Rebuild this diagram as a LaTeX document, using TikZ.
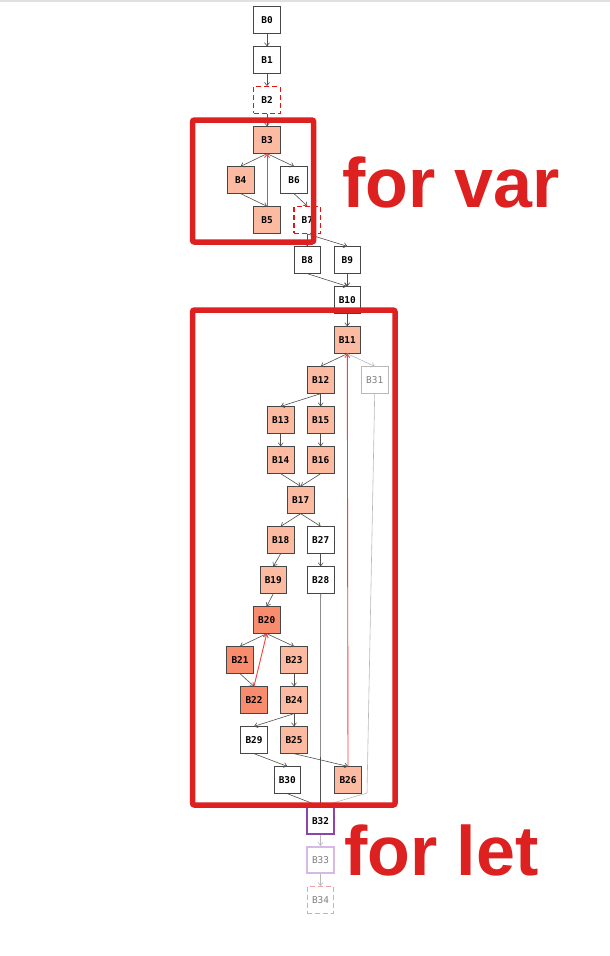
\documentclass[tikz,border=0pt]{standalone}
\usepackage{fontspec}
\setmainfont{Liberation Sans}
\newfontfamily\nodefont{DejaVu Sans Mono}
\usetikzlibrary{arrows.meta}
\definecolor{salmonA}{RGB}{252,187,161}
\definecolor{salmonB}{RGB}{250,140,110}
\definecolor{edgegray}{RGB}{80,80,80}
\definecolor{boxgray}{RGB}{70,70,70}
\definecolor{hlred}{RGB}{221,32,32}
\definecolor{backred}{RGB}{255,60,60}
\definecolor{deadred}{RGB}{230,20,20}
\definecolor{faintgray}{RGB}{185,185,185}
\definecolor{purpleA}{RGB}{142,68,173}
\definecolor{purpleB}{RGB}{215,185,230}
\definecolor{pinkB}{RGB}{245,160,160}
\tikzset{
  blk/.style={draw=boxgray, line width=0.8pt, minimum size=26.5pt, inner sep=0pt, fill=white,
    font=\nodefont\bfseries\fontsize{9.4}{10}\selectfont},
  thinlabel/.style={font=\nodefont\fontsize{9.4}{10}\selectfont, text=black!50},
  hot/.style={blk, fill=salmonA},
  hotter/.style={blk, fill=salmonB},
  deadbox/.style={blk, draw=deadred, line width=1.4pt, dash pattern=on 5pt off 3pt},
  edge/.style={draw=edgegray, line width=0.6pt, -{Straight Barb[length=3.2pt,width=5pt]}},
  backedge/.style={edge, draw=backred, line width=0.9pt},
  faintedge/.style={edge, draw=faintgray},
  hlbox/.style={draw=hlred, line width=5.5pt, rounded corners=2pt},
  bigword/.style={font=\bfseries\fontsize{70}{70}\selectfont, inner sep=0pt, text=hlred, anchor=base west}
}
\begin{document}
\begin{tikzpicture}[x=1pt,y=-1pt]
\useasboundingbox[fill=white] (0,0) rectangle (610,956);
\draw[black!12, line width=1.5pt] (0,0.75) -- (610,0.75);
% nodes
\node[blk] (B0) at (267,20) {B0};
\node[blk] (B1) at (267,60) {B1};
\node[deadbox] (B2) at (267,100) {B2};
\node[hot] (B3) at (267,140) {B3};
\node[hot] (B4) at (240.7,180) {B4};
\node[blk] (B6) at (294,180) {B6};
\node[hot] (B5) at (267,220) {B5};
\node[deadbox] (B7) at (307.3,220) {B7};
\node[blk] (B8) at (307.3,260) {B8};
\node[blk] (B9) at (347.3,260) {B9};
\node[blk] (B10) at (347.3,300) {B10};
\node[hot] (B11) at (347.3,340) {B11};
\node[hot] (B12) at (320.7,380) {B12};
\node[blk, draw=faintgray, thinlabel] (B31) at (374.7,380) {B31};
\node[hot] (B13) at (280.7,420) {B13};
\node[hot] (B15) at (320.7,420) {B15};
\node[hot] (B14) at (280.7,460) {B14};
\node[hot] (B16) at (320.7,460) {B16};
\node[hot] (B17) at (300.7,500) {B17};
\node[hot] (B18) at (280.7,540) {B18};
\node[blk] (B27) at (320.7,540) {B27};
\node[hot] (B19) at (273.3,580) {B19};
\node[blk] (B28) at (320.7,580) {B28};
\node[hotter] (B20) at (266.7,620) {B20};
\node[hotter] (B21) at (240,660) {B21};
\node[hot] (B23) at (294,660) {B23};
\node[hotter] (B22) at (254,700) {B22};
\node[hot] (B24) at (294,700) {B24};
\node[blk] (B29) at (254,740) {B29};
\node[hot] (B25) at (294,740) {B25};
\node[blk] (B30) at (287.3,780) {B30};
\node[hot] (B26) at (348,780) {B26};
\node[blk, draw=purpleA, line width=1.8pt] (B32) at (320.5,820.7) {B32};
\node[blk, draw=purpleB, line width=1.8pt, thinlabel] (B33) at (320.5,860) {B33};
\node[blk, draw=pinkB, line width=1.4pt, dash pattern=on 5pt off 3pt, thinlabel] (B34) at (320.5,900) {B34};
\coordinate (k31) at (367,793);
% edges
\draw[edge] (B0.south) -- (B1.north);
\draw[edge] (B1.south) -- (B2.north);
\draw[edge] (B2.south) -- (B3.north);
\draw[edge] (B3.south) -- (B4.north);
\draw[edge] (B3.south) -- (B6.north);
\draw[edge] (B4.south) -- (B5.north);
\draw[backedge] (B5.north) -- (B3.south);
\draw[edge] (B6.south) -- (B7.north);
\draw[edge] (B7.south) -- (B8.north);
\draw[edge] (B7.south) -- (B9.north);
\draw[edge] (B8.south) -- (B10.north);
\draw[edge] (B9.south) -- (B10.north);
\draw[edge] (B10.south) -- (B11.north);
\draw[edge] (B11.south) -- (B12.north);
\draw[faintedge] (B11.south) -- (B31.north);
\draw[edge] (B12.south) -- (B13.north);
\draw[edge] (B12.south) -- (B15.north);
\draw[edge] (B13.south) -- (B14.north);
\draw[edge] (B15.south) -- (B16.north);
\draw[edge] (B14.south) -- (B17.north);
\draw[edge] (B16.south) -- (B17.north);
\draw[edge] (B17.south) -- (B18.north);
\draw[edge] (B17.south) -- (B27.north);
\draw[edge] (B18.south) -- (B19.north);
\draw[edge] (B27.south) -- (B28.north);
\draw[edge] (B19.south) -- (B20.north);
\draw[edge] (B20.south) -- (B21.north);
\draw[edge] (B20.south) -- (B23.north);
\draw[edge] (B21.south) -- (B22.north);
\draw[backedge] (B22.north) -- (B20.south);
\draw[edge] (B23.south) -- (B24.north);
\draw[edge] (B24.south) -- (B29.north);
\draw[edge] (B24.south) -- (B25.north);
\draw[edge] (B25.south) -- (B26.north);
\draw[edge] (B29.south) -- (B30.north);
\draw[backedge] (B26.north) -- (B11.south);
\draw[edge] (B30.south) -- (B32.north);
\draw[edge] (B28.south) -- (B32.north);
\draw[faintedge] (B31.south) -- (k31) -- (B32.north);
\draw[faintedge] (B32.south) -- (B33.north);
\draw[faintedge] (B33.south) -- (B34.north);
% highlight boxes
\draw[hlbox] (192.5,120) rectangle (313.7,242);
\draw[hlbox] (192.5,310) rectangle (395,805);
% labels
\node[bigword] (forvar) at (342,207) {for var};
\node[bigword] (forlet) at (344,875) {for let};
\end{tikzpicture}
\end{document}
